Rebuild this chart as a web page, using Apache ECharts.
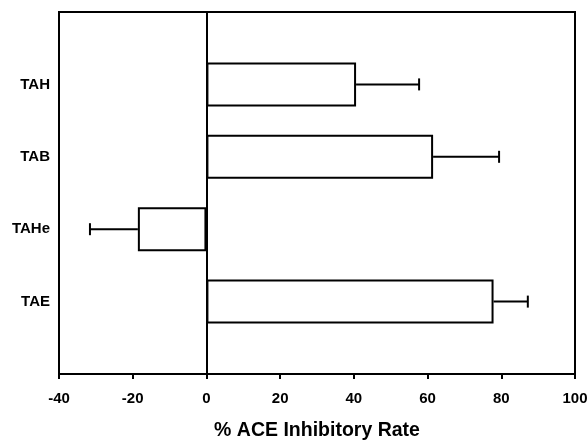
<!DOCTYPE html>
<html>
<head>
<meta charset="utf-8">
<script src="https://cdn.jsdelivr.net/npm/echarts@6/dist/echarts.min.js"></script>
<style>
  html, body { margin: 0; padding: 0; background: #fff; }
  #main { width: 588px; height: 440px; }
</style>
</head>
<body>
<div id="main"></div>
<script>
// categories from bottom to top
const categories = ["TAE", "TAHe", "TAB", "TAH"];
const rates = [77.9, -18.6, 61.5, 40.6];
const errors = [9.3, 13.0, 17.9, 17.1];
const xTicks = [-40, -20, 0, 20, 40, 60, 80, 100];

const font = "Liberation Sans, Arial, sans-serif";

// pad with empty slots so the bars sit at 1..4 on a 0..5 axis
const yData = [""].concat(categories, [""]);
const barData = ["-"].concat(rates, ["-"]);
const errData = rates.map(function (v, i) {
  const end = v < 0 ? v - errors[i] : v + errors[i];
  return [v, end, i + 1];
});

const myChart = echarts.init(document.getElementById("main"));

const option = {
  animation: false,
  backgroundColor: "#fff",
  grid: {
    left: 59,
    right: 13,
    top: 12,
    bottom: 66,
    outerBoundsMode: "none",
    containLabel: false,
    show: true,
    borderColor: "#000",
    borderWidth: 2,
  },
  xAxis: {
    type: "value",
    min: xTicks[0],
    max: xTicks[xTicks.length - 1],
    interval: 20,
    name: "% ACE Inhibitory Rate",
    nameLocation: "middle",
    nameGap: 47,
    nameTextStyle: { color: "#000", fontSize: 19.5, fontWeight: "bold", fontFamily: font },
    axisLine: { show: true, lineStyle: { color: "#000", width: 2 } },
    axisTick: { show: true, length: 5, lineStyle: { color: "#000", width: 2 } },
    axisLabel: { color: "#000", fontSize: 15, fontWeight: "bold", fontFamily: font, margin: 17 },
    splitLine: { show: false },
  },
  yAxis: {
    type: "category",
    data: yData,
    boundaryGap: false,
    axisLine: { show: true, onZero: false, lineStyle: { color: "#000", width: 2 } },
    axisTick: { show: false },
    axisLabel: { color: "#000", fontSize: 15, fontWeight: "bold", fontFamily: font, margin: 9 },
    splitLine: { show: false },
  },
  series: [
    {
      type: "bar",
      data: barData,
      barWidth: 44,
      itemStyle: { color: "#fff", borderColor: "#000", borderWidth: 2 },
      markLine: {
        silent: true,
        symbol: "none",
        label: { show: false },
        lineStyle: { color: "#000", width: 2, type: "solid" },
        data: [{ xAxis: 0 }],
      },
      z: 3,
    },
    {
      type: "custom",
      data: errData,
      z: 4,
      renderItem: function (params, api) {
        const start = api.coord([api.value(0), api.value(2)]);
        const end = api.coord([api.value(1), api.value(2)]);
        const cap = 6;
        const style = { stroke: "#000", lineWidth: 2 };
        return {
          type: "group",
          children: [
            { type: "line", shape: { x1: start[0], y1: start[1], x2: end[0], y2: end[1] }, style: style },
            { type: "line", shape: { x1: end[0], y1: end[1] - cap, x2: end[0], y2: end[1] + cap }, style: style },
          ],
        };
      },
    },
  ],
};

myChart.setOption(option);
</script>
</body>
</html>
